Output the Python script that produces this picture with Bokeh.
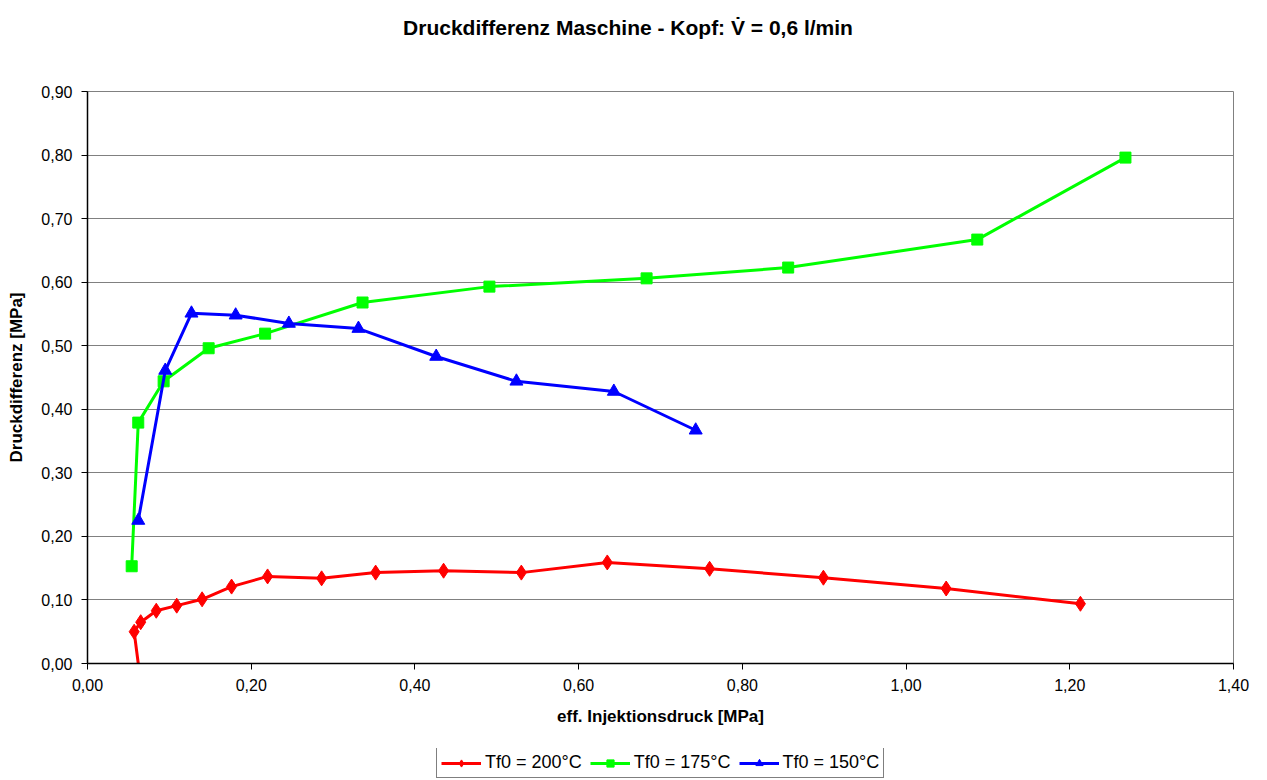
from bokeh.plotting import figure
from bokeh.models import Range1d, FixedTicker, CustomJSTickFormatter, Legend, LegendItem, Div
from bokeh.layouts import column
from bokeh.embed import file_html
from bokeh.resources import INLINE

# Data
red_x = [0.062, 0.057, 0.065, 0.084, 0.109, 0.140, 0.176, 0.220, 0.286, 0.352, 0.435, 0.530, 0.635, 0.760, 0.899, 1.049, 1.213]
red_y = [0.000, 0.050, 0.065, 0.083, 0.091, 0.101, 0.121, 0.137, 0.134, 0.143, 0.146, 0.143, 0.159, 0.149, 0.135, 0.118, 0.094]

green_x = [0.054, 0.062, 0.093, 0.148, 0.217, 0.336, 0.491, 0.683, 0.856, 1.087, 1.268]
green_y = [0.153, 0.379, 0.444, 0.496, 0.519, 0.568, 0.593, 0.606, 0.623, 0.667, 0.796]

blue_x = [0.062, 0.095, 0.127, 0.181, 0.246, 0.331, 0.426, 0.524, 0.643, 0.743]
blue_y = [0.225, 0.461, 0.551, 0.548, 0.535, 0.527, 0.483, 0.444, 0.428, 0.367]

x_ticks = [0.0, 0.2, 0.4, 0.6, 0.8, 1.0, 1.2, 1.4]
y_ticks = [0.0, 0.1, 0.2, 0.3, 0.4, 0.5, 0.6, 0.7, 0.8, 0.9]

series_labels = ["Tf0 = 200°C", "Tf0 = 175°C", "Tf0 = 150°C"]
title_text = "Druckdifferenz Maschine - Kopf: V\u0307 = 0,6 l/min"

FONT = "Liberation Sans"
RED, GREEN, BLUE = "#FF0000", "#00FF00", "#0000FF"

title_div = Div(text=title_text, width=1256, height=46, margin=0,
                styles={"font-family": FONT, "font-size": "21px", "font-weight": "bold",
                        "text-align": "center", "color": "black", "padding-top": "13px",
                        "box-sizing": "border-box", "width": "1256px"})

p = figure(frame_width=1146, frame_height=572, output_backend="svg", toolbar_location=None,
           x_range=Range1d(0, 1.4), y_range=Range1d(0, 0.9),
           min_border_left=87, min_border_right=26, min_border_top=45, min_border_bottom=85,
           background_fill_color="white", border_fill_color="white", margin=0)
p.title = None

p.outline_line_color = "#808080"
p.outline_line_width = 1

fmt = CustomJSTickFormatter(code="return tick.toFixed(2).replace('.', ',');")

for ax, ticks in ((p.xaxis[0], x_ticks), (p.yaxis[0], y_ticks)):
    ax.ticker = FixedTicker(ticks=ticks)
    ax.formatter = fmt
    ax.major_label_text_font = FONT
    ax.major_label_text_font_size = "16px"
    ax.major_label_text_color = "black"
    ax.axis_line_color = "black"
    ax.axis_line_width = 1.5
    ax.major_tick_line_color = "black"
    ax.major_tick_out = 6
    ax.major_tick_in = 0
    ax.minor_tick_line_color = None
    ax.axis_label_text_font = FONT
    ax.axis_label_text_font_size = "17px"
    ax.axis_label_text_font_style = "bold"
    ax.axis_label_text_color = "black"

p.xaxis.axis_label = "eff. Injektionsdruck [MPa]"
p.yaxis.axis_label = "Druckdifferenz [MPa]"
p.xaxis.major_label_standoff = 9
p.yaxis.major_label_standoff = 9
p.xaxis.axis_label_standoff = 13
p.yaxis.axis_label_standoff = 12

p.xgrid.grid_line_color = None
p.ygrid.grid_line_color = "#808080"
p.ygrid.grid_line_width = 1

mx = [x for x, y in zip(red_x, red_y) if y > 0]
my = [y for y in red_y if y > 0]

def draw(fig):
    out = []
    a = fig.line(red_x, red_y, color=RED, line_width=3)
    b = fig.scatter(mx, my, marker="diamond", size=15, color=RED)
    out.append([a, b])
    a = fig.line(green_x, green_y, color=GREEN, line_width=3)
    b = fig.scatter(green_x, green_y, marker="square", size=11, color=GREEN)
    out.append([a, b])
    a = fig.line(blue_x, blue_y, color=BLUE, line_width=3)
    b = fig.scatter(blue_x, blue_y, marker="triangle", size=13, color=BLUE)
    out.append([a, b])
    return out

draw(p)

# Separate strip holding the legend below the chart (series drawn off-range there)
lg = figure(width=1259, height=32, output_backend="svg", toolbar_location=None,
            x_range=Range1d(10, 11), y_range=Range1d(10, 11),
            min_border_left=0, min_border_right=0, min_border_top=0, min_border_bottom=0,
            margin=0, background_fill_color="white", border_fill_color="white")
lg.title = None
lg.axis.visible = False
lg.grid.visible = False
lg.outline_line_color = None
rends = draw(lg)
items = [LegendItem(label=lbl, renderers=r) for lbl, r in zip(series_labels, rends)]
legend = Legend(items=items, orientation="horizontal", location=(349, 2),
                label_text_font=FONT, label_text_font_size="18px", label_text_color="black",
                border_line_color="black", border_line_width=1,
                glyph_width=40, glyph_height=18, label_standoff=4, spacing=8,
                padding=4, margin=0, label_height=18, background_fill_color="white")
lg.add_layout(legend, "center")

layout = column(title_div, p, lg, spacing=0)
open("out.html", "w").write(file_html(layout, INLINE))
